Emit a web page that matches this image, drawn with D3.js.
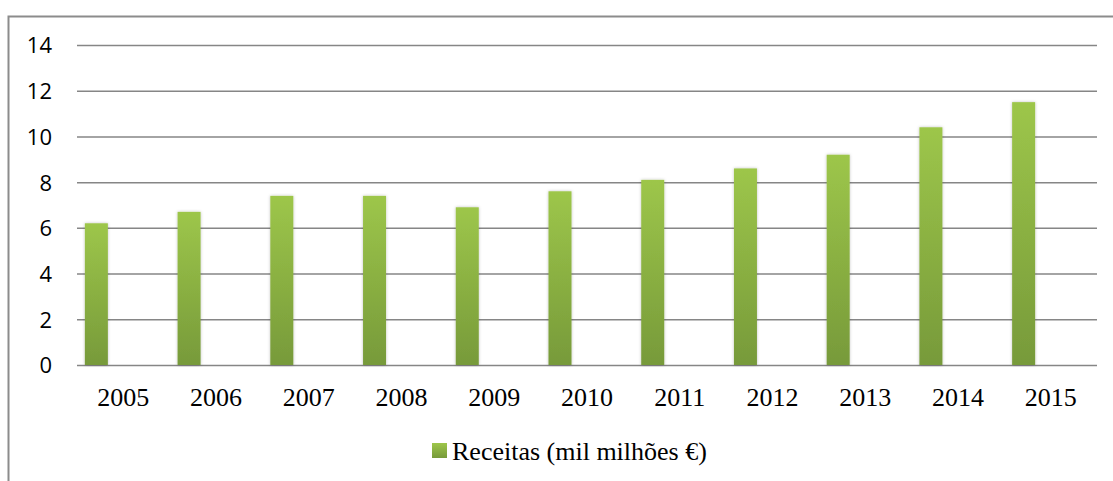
<!DOCTYPE html>
<html>
<head>
<meta charset="utf-8">
<script src="https://cdn.jsdelivr.net/npm/d3@7"></script>
<style>
  html, body { margin: 0; padding: 0; background: #fff; }
  svg { display: block; }
</style>
</head>
<body>
<div id="chart"></div>
<script>
// data
const years = ["2005", "2006", "2007", "2008", "2009", "2010", "2011", "2012", "2013", "2014", "2015"];
const receitas = [6.2, 6.7, 7.4, 7.4, 6.9, 7.6, 8.1, 8.6, 9.2, 10.4, 11.5];
const yTicks = [0, 2, 4, 6, 8, 10, 12, 14];
const seriesName = "Receitas (mil milh\u00f5es \u20ac)";

const W = 1113, H = 481;
const margin = { t: 45, r: 16, b: 116, l: 77 };
const serif = "'Liberation Serif', 'Times New Roman', serif";

const svg = d3.select("#chart").append("svg")
  .attr("width", W)
  .attr("height", H);

const defs = svg.append("defs");
const grad = defs.append("linearGradient")
  .attr("id", "barGrad")
  .attr("x1", 0).attr("y1", 0).attr("x2", 0).attr("y2", 1);
grad.append("stop").attr("offset", "0%").attr("stop-color", "#9dc64a");
grad.append("stop").attr("offset", "100%").attr("stop-color", "#779a3a");

const shadow = defs.append("filter").attr("id", "shadow")
  .attr("x", "-30%").attr("y", "-10%").attr("width", "160%").attr("height", "120%");
shadow.append("feDropShadow")
  .attr("dx", 0).attr("dy", 0).attr("stdDeviation", 1.5)
  .attr("flood-color", "#000").attr("flood-opacity", 0.25);

// outer frame (top and left edges visible)
svg.append("path")
  .attr("d", `M8.5,${H} L8.5,16.5 L${W},16.5`)
  .attr("fill", "none")
  .attr("stroke", "#8c8c8c")
  .attr("stroke-width", 2);

const x = d3.scaleBand()
  .domain(years)
  .range([margin.l, W - margin.r]);

const y = d3.scaleLinear()
  .domain([0, 14])
  .range([H - margin.b, margin.t]);

// grid lines
svg.append("g")
  .attr("transform", `translate(${margin.l},0)`)
  .call(d3.axisLeft(y).tickValues(yTicks).tickSize(-(W - margin.l - margin.r)).tickFormat(""))
  .call(g => g.select(".domain").remove())
  .call(g => g.selectAll(".tick line").attr("stroke", "#868686").attr("stroke-width", 1.5));

// y labels
svg.append("g")
  .attr("transform", `translate(${margin.l},0)`)
  .call(d3.axisLeft(y).tickValues(yTicks).tickSize(0).tickPadding(25))
  .call(g => g.select(".domain").remove())
  .call(g => g.selectAll("text")
    .attr("fill", "#000")
    .style("font-family", "'Open Sans', 'Liberation Sans', sans-serif")
    .style("font-size", "22px")
    .attr("dy", "0.36em"));

// bars, offset left inside each band
const barW = 23;
svg.append("g")
  .selectAll("rect")
  .data(years)
  .join("rect")
  .attr("x", (d) => x(d) + x.bandwidth() / 2 - 27 - barW / 2)
  .attr("y", (d, i) => y(receitas[i]))
  .attr("width", barW)
  .attr("height", (d, i) => y(0) - y(receitas[i]))
  .attr("fill", "url(#barGrad)")
  .attr("filter", "url(#shadow)");

// x labels
svg.append("g")
  .attr("transform", `translate(0,${y(0)})`)
  .call(d3.axisBottom(x).tickSize(0))
  .call(g => g.select(".domain").remove())
  .call(g => g.selectAll("text")
    .attr("fill", "#000")
    .style("font-family", serif)
    .style("font-size", "26px")
    .attr("y", 41)
    .attr("dy", 0));

// legend
const lg = svg.append("g").attr("transform", "translate(432,460)");
lg.append("rect")
  .attr("x", 0).attr("y", -17)
  .attr("width", 15).attr("height", 15)
  .attr("fill", "url(#barGrad)");
lg.append("text")
  .attr("x", 20).attr("y", 0)
  .style("font-family", serif)
  .style("font-size", "26px")
  .attr("fill", "#000")
  .text(seriesName);
</script>
</body>
</html>
